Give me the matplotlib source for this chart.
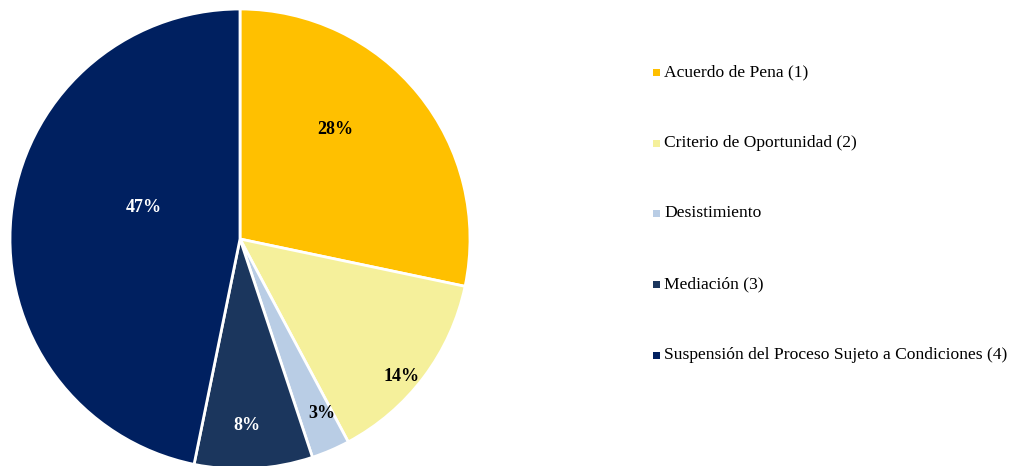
import matplotlib
matplotlib.use("Agg")
import matplotlib.pyplot as plt
from matplotlib.patches import Rectangle
import numpy as np

categories = ["Acuerdo de Pena (1)", "Criterio de Oportunidad (2)", "Desistimiento",
              "Mediación (3)", "Suspensión del Proceso Sujeto a Condiciones (4)"]
values = [28.3, 13.9, 2.7, 8.3, 46.8]
pct_labels = ["28%", "14%", "3%", "8%", "47%"]
colors = ["#FFC000", "#F5F09B", "#B9CDE5", "#1B365D", "#002060"]
label_colors = ["#000000", "#000000", "#000000", "#FFFFFF", "#FFFFFF"]
# label placement (radius fraction, angle in degrees)
label_r = [0.63, 0.92, 0.84, 0.81, 0.44]
label_ang = [48.9, -40.4, -64.8, -87.9, 161.7]

W, H = 1014, 466
fig = plt.figure(figsize=(W / 100, H / 100), dpi=100)
ax = fig.add_axes([10 / W, -3 / H, 460 / W, 460 / H])
ax.pie(values, colors=colors, startangle=90, counterclock=False,
       wedgeprops=dict(edgecolor="white", linewidth=2.0), radius=1.0)
ax.set_xlim(-1, 1)
ax.set_ylim(-1, 1)
ax.set_aspect("equal")

font = "Liberation Serif"
for lab, r, a, c in zip(pct_labels, label_r, label_ang, label_colors):
    t = np.deg2rad(a)
    ax.text(r * np.cos(t), r * np.sin(t), lab, ha="center", va="center",
            fontsize=13, fontweight="bold", color=c, family=font)

leg_y = [72, 143, 213, 284, 355]
for cat, col, y in zip(categories, colors, leg_y):
    fig.patches.append(Rectangle(((653) / W, (H - y - 3.5) / H), 7 / W, 7 / H,
                                 transform=fig.transFigure, facecolor=col,
                                 edgecolor="none"))
    fig.text(664 / W, (H - y) / H, cat, ha="left", va="center",
             fontsize=12.6, family=font, color="#000000")

fig.savefig("out.png", dpi=100)
